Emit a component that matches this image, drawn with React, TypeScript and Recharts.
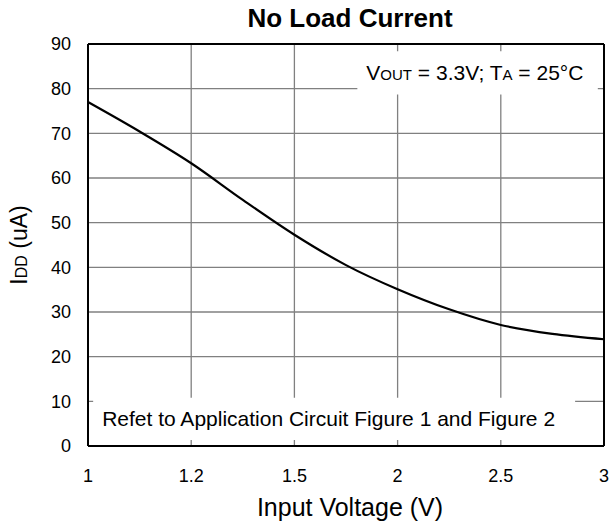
import React from "react";
import { CartesianGrid, Line, LineChart, ReferenceArea, ReferenceLine, XAxis, YAxis } from "recharts";

// x positions are slots on the evenly spaced voltage axis (0 = 1 V ... 5 = 3 V)
const xLabels = ["1", "1.2", "1.5", "2", "2.5", "3"];
const xTicks = [0, 1, 2, 3, 4, 5];
const yTicks = [0, 10, 20, 30, 40, 50, 60, 70, 80, 90];

const xPos = [0, 0.5, 1, 1.5, 2, 2.5, 3, 3.5, 4, 4.5, 5];
const iddUa = [77, 70.4, 63.3, 55.1, 47.3, 40.5, 35.1, 30.6, 27.1, 25.1, 23.9];

const data = xPos.map((x, i) => ({ x, idd: iddUa[i] }));

const font = "'Liberation Sans', Arial, sans-serif";
const gridColor = "#808080";

function YLabel({ viewBox }: any) {
  const cy = viewBox.y + viewBox.height / 2;
  return (
    <text x={0} y={0} transform={`translate(27, ${cy}) rotate(-90)`} textAnchor="middle" fontFamily={font} fontSize={23} fill="#000">
      <tspan>I</tspan>
      <tspan fontSize={16}>DD</tspan>
      <tspan> (uA)</tspan>
    </text>
  );
}

function XLabel({ viewBox }: any) {
  return (
    <text x={viewBox.x + viewBox.width / 2 + 4} y={516} textAnchor="middle" fontFamily={font} fontSize={25} fill="#000">
      Input Voltage (V)
    </text>
  );
}

function CondText({ viewBox }: any) {
  return (
    <text x={viewBox.x + 9} y={80} fontFamily={font} fontSize={21} fill="#000">
      <tspan>V</tspan>
      <tspan fontSize={15}>OUT</tspan>
      <tspan> = 3.3V; T</tspan>
      <tspan fontSize={15}>A</tspan>
      <tspan> = 25°C</tspan>
    </text>
  );
}

function NoteText({ viewBox }: any) {
  return (
    <text x={viewBox.x + 9} y={426} fontFamily={font} fontSize={21} fill="#000">
      Refet to Application Circuit Figure 1 and Figure 2
    </text>
  );
}

export default function App() {
  return (
    <div style={{ position: "absolute", left: 0, top: 0, width: 612, height: 524, background: "#fff", fontFamily: font }}>
      <div
        style={{
          position: "absolute",
          left: 0,
          top: 3,
          width: 700,
          textAlign: "center",
          fontSize: 26,
          lineHeight: "30px",
          fontWeight: "bold",
        }}
      >
        No Load Current
      </div>
      <LineChart width={612} height={524} data={data} margin={{ top: 44, right: 8, bottom: 0, left: 0 }}>
        <CartesianGrid stroke={gridColor} strokeWidth={1.3} />
        <XAxis
          dataKey="x"
          type="number"
          domain={[0, 5]}
          ticks={xTicks}
          tickFormatter={(v: number) => xLabels[v]}
          height={78}
          tickLine={false}
          tickSize={0}
          tickMargin={23}
          axisLine={{ stroke: "#000", strokeWidth: 2 }}
          tick={{ fill: "#000", fontSize: 18, fontFamily: font }}
          label={<XLabel />}
        />
        <YAxis
          type="number"
          domain={[0, 90]}
          ticks={yTicks}
          width={88}
          tickLine={false}
          tickSize={0}
          tickMargin={17}
          axisLine={{ stroke: "#000", strokeWidth: 2 }}
          tick={{ fill: "#000", fontSize: 18, fontFamily: font }}
          label={<YLabel />}
        />
        <ReferenceArea x1={2.61} x2={4.94} y1={78.7} y2={88.4} fill="#fff" fillOpacity={1} stroke="none" label={<CondText />} />
        <ReferenceArea x1={0.05} x2={4.72} y1={1.35} y2={10.8} fill="#fff" fillOpacity={1} stroke="none" label={<NoteText />} />
        <ReferenceLine y={90} stroke="#000" strokeWidth={2} />
        <ReferenceLine x={5} stroke="#000" strokeWidth={2} />
        <Line
          type="monotone"
          dataKey="idd"
          stroke="#000"
          strokeWidth={2.2}
          dot={false}
          activeDot={false}
          isAnimationActive={false}
        />
      </LineChart>
    </div>
  );
}
